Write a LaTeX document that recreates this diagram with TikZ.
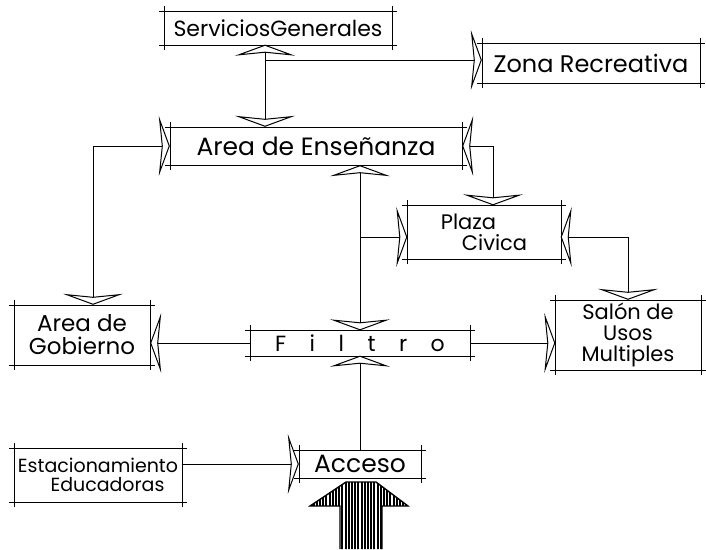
\documentclass[tikz,border=0pt]{standalone}
\usepackage{fontspec}
\setmainfont{Poppins}
\usetikzlibrary{arrows.meta,patterns.meta,positioning}

\tikzset{
  caja/.style={align=center, inner sep=1pt,
    append after command={[line width=1.3pt, shorten <=-5pt, shorten >=-5pt]
      (\tikzlastnode.north west) edge (\tikzlastnode.north east)
      (\tikzlastnode.south west) edge (\tikzlastnode.south east)
      (\tikzlastnode.north west) edge (\tikzlastnode.south west)
      (\tikzlastnode.north east) edge (\tikzlastnode.south east)}},
  cajagruesa/.style={caja, append after command={[line width=2.4pt]
      (\tikzlastnode.north west) rectangle (\tikzlastnode.south east)}},
  >={Stealth[open,length=11pt,width=60pt,inset=3pt,line width=1pt]},
  flecha/.style={line width=0.8pt}
}
\newcommand{\tam}[1]{\fontsize{#1}{#1}\selectfont}

\begin{document}
\begin{tikzpicture}[x=1pt,y=-1pt]
  \useasboundingbox (0,0) rectangle (706,549);
  % areas
  \node[caja, font=\tam{22}, minimum width=227, minimum height=33] (sg) at (278,28) {ServiciosGenerales};
  \node[caja, font=\tam{24}, minimum width=218, minimum height=40] (zr) at (591,63) {Zona Recreativa};
  \node[cajagruesa, font=\tam{25}, minimum width=292, minimum height=38] (ae) at (316,146) {Area de Enseñanza};
  \node[caja, font=\tam{21}, minimum width=153, minimum height=53, align=left] (pc) at (484,232) {Plaza\\\quad Civica};
  \node[caja, font=\tam{23}, minimum width=136, minimum height=60] (ag) at (82,335) {Area de\\Gobierno};
  \node[caja, font=\tam{22}, minimum width=220, minimum height=25] (fi) at (360,343) {F\ \ \ \ i\ \ \ \ l\ \ \ \ t\ \ \ \ r\ \ \ \ o};
  \node[caja, font=\tam{21}, minimum width=145, minimum height=70] (sm) at (628,335) {Salón de\\Usos\\Multiples};
  \node[caja, font=\tam{19}, minimum width=167, minimum height=54] (es) at (98,475) {Estacionamiento\\\quad Educadoras};
  \node[caja, font=\tam{25}, minimum width=122, minimum height=28] (ac) at (360,464) {Acceso};

  % uniones
  \coordinate (j1) at (265,60);
  \coordinate (j2) at (360,237);
  \coordinate (a1) at (93,146);
  \coordinate (a2) at (493,146);
  \coordinate (a3) at (628,237);

  \draw[flecha,<->] (j1 |- sg.south) -- (j1 |- ae.north);
  \draw[flecha,->] (j1) -- (j1 -| zr.west);
  \draw[flecha,->] (a1) -- (ae.west);
  \draw[flecha,->] (a1) -- (a1 |- ag.north);
  \draw[flecha,->] (a2) -- (ae.east);
  \draw[flecha,->] (a2) -- (a2 |- pc.north);
  \draw[flecha,<->] (fi.north |- ae.south) -- (fi.north);
  \draw[flecha,->] (j2) -- (j2 -| pc.west);
  \draw[flecha,->] (a3) -- (a3 -| pc.east);
  \draw[flecha,->] (a3) -- (sm.north);
  \draw[flecha,->] (fi.west) -- (fi.west -| ag.east);
  \draw[flecha,->] (fi.east) -- (fi.east -| sm.west);
  \draw[flecha,->] (ac.north) -- (fi.south);
  \draw[flecha,->] (es.east |- ac.west) -- (ac.west);

  % entrada principal
  \draw[line width=1.4pt, pattern={Lines[angle=90,distance=3.2pt,line width=2pt]}]
    (340,549) -- (340,506) -- (310,506) -- (346,482) -- (376,482) -- (408,506)
    -- (382,506) -- (382,549);
\end{tikzpicture}
\end{document}
